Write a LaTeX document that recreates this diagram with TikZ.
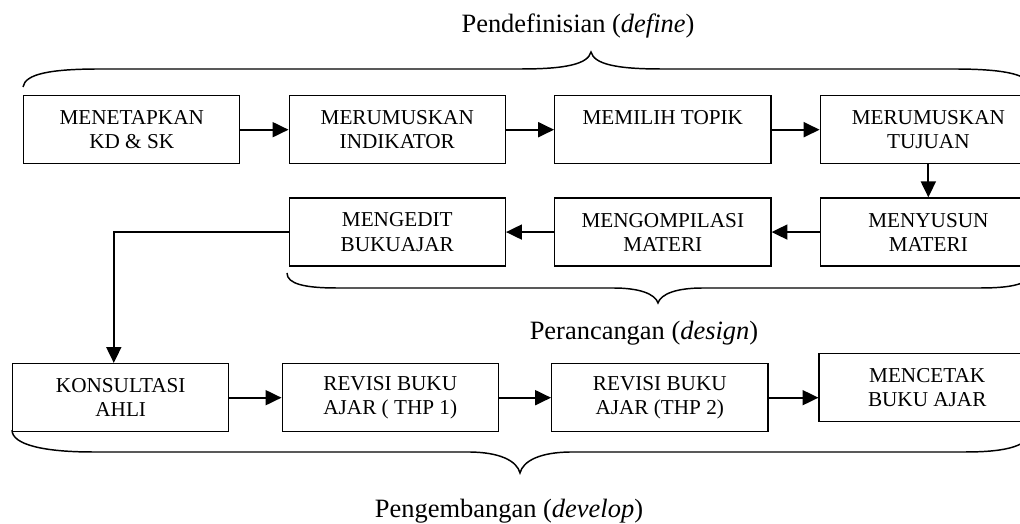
\documentclass[tikz,border=0pt]{standalone}
\usepackage{fontspec}
\setmainfont{Liberation Serif}
\usepackage{tikz}
\usetikzlibrary{arrows.meta, positioning, calc}

\begin{document}
\begin{tikzpicture}[
  x=0.47619pt, y=-0.47619pt,
  box/.style={
    draw, line width=0.65pt,
    minimum width=102.9pt, minimum height=32.4pt,
    inner sep=2pt, align=center, font=\fontsize{10.1}{11.5}\selectfont
  },
  arrow/.style={-{Triangle[length=7.6pt,width=7.1pt]}, line width=1pt},
  brace/.style={line width=0.7pt},
  lbl/.style={font=\fontsize{12.6}{14}\selectfont, anchor=base}
]
\useasboundingbox (0,0) rectangle (1020,524);

% Boxes
\node[box, anchor=north west] (kdsk) at (23,95) {MENETAPKAN\\KD \& SK};
\node[box, right=22.9pt of kdsk] (indikator) {MERUMUSKAN\\INDIKATOR};
\node[box, right=22.9pt of indikator] (topik) {MEMILIH TOPIK\\\mbox{}};
\node[box, right=22.9pt of topik] (tujuan) {MERUMUSKAN\\TUJUAN};
\node[box, below=15.7pt of tujuan] (menyusun) {MENYUSUN\\MATERI};
\node[box, left=22.9pt of menyusun] (kompilasi) {MENGOMPILASI\\MATERI};
\node[box, left=22.9pt of kompilasi] (edit) {MENGEDIT\\BUKUAJAR};
\node[box, anchor=north west] (konsultasi) at (12,363) {KONSULTASI\\AHLI};
\node[box, right=24.8pt of konsultasi] (revisia) {REVISI BUKU\\AJAR ( THP 1)};
\node[box, right=24.8pt of revisia] (revisib) {REVISI BUKU\\AJAR (THP 2)};
\node[box, right=23.8pt of revisib, yshift=4.8pt] (cetak) {MENCETAK\\BUKU AJAR};

% Arrows
\draw[arrow] (kdsk) -- (indikator);
\draw[arrow] (indikator) -- (topik);
\draw[arrow] (topik) -- (tujuan);
\draw[arrow] (tujuan.south) -- (menyusun.north);
\draw[arrow] (menyusun) -- (kompilasi);
\draw[arrow] (kompilasi) -- (edit);
\draw[arrow] (edit.west) -| ([xshift=-3.3pt]konsultasi.north);
\draw[arrow] (konsultasi) -- (revisia);
\draw[arrow] (revisia) -- (revisib);
\draw[arrow] (revisib.east) -- (revisib.east -| cetak.west);

% Braces
\draw[brace] (23,87) .. controls (25,74) and (50,69) .. (100,69) -- (521,69)
  .. controls (566,69) and (588,64) .. (591,52)
  .. controls (594,64) and (616,69) .. (661,69) -- (953,69)
  .. controls (998,69) and (1030,73) .. (1030,87);
\draw[brace] (287,273) .. controls (287,284) and (305,288) .. (337,288) -- (613,288)
  .. controls (640,288) and (655,294) .. (658,303)
  .. controls (661,294) and (676,288) .. (703,288) -- (980,288)
  .. controls (1012,288) and (1030,284) .. (1030,273);
\draw[brace] (12,430) .. controls (12,445) and (45,452) .. (93,452) -- (468,452)
  .. controls (500,452) and (517,461) .. (520,473)
  .. controls (523,461) and (540,452) .. (572,452) -- (965,452)
  .. controls (1010,452) and (1030,445) .. (1030,430);

% Labels
\node[lbl] (define) at (578,33) {Pendefinisian (\textit{define})};
\node[lbl] (design) at (644,340) {Perancangan (\textit{design})};
\node[lbl] (develop) at (509,518) {Pengembangan (\textit{develop})};

\end{tikzpicture}
\end{document}
